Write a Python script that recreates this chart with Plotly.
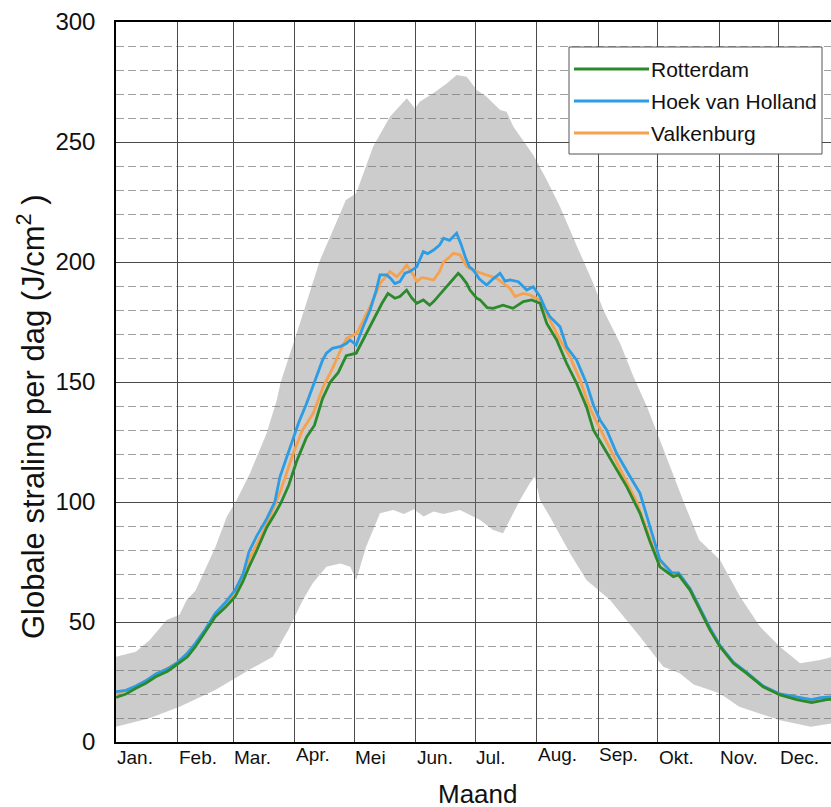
import plotly.graph_objects as go

# Month grid (day-of-year where each month starts) and axis labels
month_starts = [0, 31, 59, 90, 120, 151, 181, 212, 243, 273, 304, 334]
month_labels = ["Jan.", "Feb.", "Mar.", "Apr.", "Mei", "Jun.", "Jul.",
                "Aug.", "Sep.", "Okt.", "Nov.", "Dec."]

# Daily global radiation, J/cm2 (smoothed climatology per station)
rotterdam_days = [0, 5, 10, 15, 20, 26, 31, 36, 40, 45,
                  50, 55, 60, 64, 67, 71, 76, 80, 83, 87,
                  91, 96, 100, 104, 108, 112, 116, 121, 126, 130,
                  134, 137, 140.5, 143, 146.4, 149, 151.5, 154.8, 158, 160,
                  165, 168, 172.4, 174, 176.7, 178.3, 181.7, 183.4, 187, 190,
                  195, 200, 205.2, 209.4, 213.6, 217, 222, 227, 232, 237,
                  240.5, 245.5, 250.5, 257.3, 264, 269, 274, 280.8, 283.4, 289.2,
                  294.2, 299.2, 304.3, 311, 317.7, 326, 334.5, 342.9, 350.4, 358,
                  361]
rotterdam_vals = [18.6, 20, 22.4, 24.5, 27.2, 29.5, 32.5, 35.5, 39.7, 46,
                  52.2, 56, 60.5, 67, 73, 80, 89.5, 95, 99.5, 107,
                  117, 127, 132, 143, 150, 154, 161, 162, 170, 177,
                  182.8, 186.9, 184.9, 185.6, 188.3, 185, 182.8, 184.2, 182, 183.5,
                  188.3, 191, 195.3, 194, 191, 188.3, 184.9, 184.2, 181, 180.7,
                  182, 180.7, 183.5, 184.2, 182.8, 174.4, 167.5, 157.8, 149.5, 139.7,
                  130, 123, 116.1, 106.4, 95.3, 83.5, 73, 68.9, 69.6, 63.3,
                  55, 46.7, 39.7, 32.8, 28.6, 23, 19.6, 17.7, 16.4, 17.7,
                  17.8]

hoek_days = [0, 5, 10, 15, 20, 26, 31, 36, 40, 45,
             50, 55, 60, 64, 67, 71, 75.6, 80, 82.6, 87.7,
             92, 96, 101, 104, 106, 109, 112.8, 116, 117.9, 121,
             124, 128, 131, 133, 136.4, 138.5, 140.5, 143, 145.6, 148,
             151.5, 154.8, 157, 160, 163, 165, 168, 171.6, 174, 176,
             178, 180, 183, 186.7, 190, 193.5, 196, 198.5, 202.7, 206.9,
             210.2, 213.6, 216, 218.6, 223.7, 227, 232, 237, 240.5, 243.8,
             247.2, 252.2, 259, 264, 269, 274, 280, 283.4, 289.2, 294.2,
             299.2, 304.3, 311, 317.7, 326, 334.5, 342.9, 350.4, 355, 361]
hoek_vals = [21, 21.5, 23.3, 25.5, 28.3, 30.5, 33.2, 37, 41.1, 47,
             53.6, 58, 63.3, 70, 79.3, 86, 92.5, 100, 110.5, 123,
             133, 141, 152, 159, 162, 164, 164.7, 166, 167.5, 165.4,
             172, 180, 188, 194.6, 194.6, 193, 191, 191.8, 195.3, 196,
             198, 204.3, 203.5, 205, 207, 209.9, 209, 212, 207, 202,
             198, 196.7, 193, 190.4, 193, 195.3, 192, 192.5, 191.8, 188.3,
             189.7, 185.6, 181, 177.2, 173, 164.7, 159.2, 149.5, 140.4, 134.2,
             130, 120.3, 110.5, 103.6, 89.7, 76, 70.5, 70.5, 64, 56,
             47.5, 40.2, 33.3, 29, 23.3, 20, 18.8, 17.7, 18.5, 18.8]

valkenburg_days = [0, 10, 20, 31, 40, 50, 60, 67, 75.6, 82.6,
                   89.3, 94, 99.4, 104.4, 109.5, 113, 116.2, 121.3, 126.3, 130,
                   133, 138, 141.4, 144, 146.4, 149.8, 151.5, 154, 156.5, 160,
                   163, 165, 168, 170, 173.3, 176.7, 180, 183, 186.7, 191.8,
                   195, 198.5, 201, 205.2, 208.6, 213.6, 218.6, 223.7, 228.7, 233.8,
                   238.8, 243.8, 248.9, 255.6, 262.3, 267.3, 272.4, 280.8, 283.4, 289.2,
                   294.2, 299.2, 304.3, 311, 317.7, 326, 334.5, 342.9, 350.4, 358,
                   361]
valkenburg_vals = [20, 23, 28, 33, 40.5, 53, 62, 76, 90, 104,
                   120.3, 130, 137, 148, 156.4, 163, 168.2, 170.3, 178.6, 185,
                   191, 196, 193.9, 196, 198.75, 194.6, 191.8, 193.5, 193.2, 192.5,
                   196, 200, 202, 203.6, 203, 198, 196.5, 195.5, 194.6, 193.2,
                   191, 189, 185.6, 186.9, 186.25, 184.2, 175.8, 167.5, 160.5, 150.8,
                   139, 130.5, 122, 111, 100, 89, 77, 69.5, 70, 63.5,
                   55.5, 47, 40, 33, 28.8, 23.2, 19.8, 18, 16.8, 17.9,
                   18]

# Spread of daily values: upper and lower envelope
band_upper_days = [0, 10, 17, 25.5, 32, 35.6, 40, 45.7, 50, 55.8,
                   60.8, 67.5, 75.9, 81, 83, 92.7, 102.8, 112.8, 115.8, 121,
                   129.5, 138, 146.5, 150.6, 153, 159.8, 166.6, 171.6, 176.7, 181.7,
                   186.7, 193.5, 196.8, 200.2, 207, 210.2, 217, 223.7, 232, 240.5,
                   245.5, 254, 260.7, 267.5, 274, 286, 293.8, 304.3, 314.4, 324.5,
                   334.5, 344.6, 354.7, 361]
band_upper_vals = [35.5, 37.6, 42.5, 50.8, 53, 59.2, 63, 73, 81, 93.9,
                   100.8, 112, 128.6, 142.5, 150, 174.6, 200.8, 220, 225.8, 228.6,
                   248, 260.5, 268.2, 264, 266.8, 270.3, 274.4, 277.9, 277.2, 271.7,
                   268.9, 263.3, 262.6, 256.4, 248, 244.6, 234.2, 223, 207, 191,
                   180, 166, 152.2, 139.7, 125.8, 100, 84.2, 75.8, 60.5, 48,
                   39.7, 32.8, 34.2, 35.5]
band_lower_days = [0, 16.8, 32, 50, 67, 79, 87, 94, 99, 101,
                   106, 113, 118, 121, 126, 133, 139.7, 145, 150, 155,
                   160, 165, 173.3, 183.4, 190, 195, 203.5, 208.5, 211, 213.6,
                   218.6, 228.7, 237, 248.9, 264, 275.7, 284, 291, 304, 314,
                   334, 350, 361]
band_lower_vals = [6.4, 9.9, 14.7, 21.7, 30, 35.5, 47, 59, 66, 68,
                   73, 74.4, 73, 67.5, 81.4, 95.3, 96.7, 95, 97, 94,
                   96, 95, 96.7, 92.5, 88.3, 87, 100.8, 107.8, 110.5, 100.8,
                   93.9, 78.6, 67.5, 59.2, 43.9, 31.4, 28.6, 24, 20.3, 14.7,
                   9.2, 6.4, 7.8]

series = [
    ("Valkenburg", valkenburg_days, valkenburg_vals, "#f6a14e"),
    ("Hoek van Holland", hoek_days, hoek_vals, "#2c9ce4"),
    ("Rotterdam", rotterdam_days, rotterdam_vals, "#2b8a2b"),
]
legend_order = ["Rotterdam", "Hoek van Holland", "Valkenburg"]
colors = {name: col for name, _, _, col in series}

FONT = "Liberation Sans, Arial, Helvetica, sans-serif"
W, H = 831, 807
ML, MR, MT, MB = 116, 0, 22, 65
PW, PH = W - ML - MR, H - MT - MB
X_MAX = 360.2


def paper_x(px):
    return (px - ML) / PW


def paper_y(py):
    return (H - MB - py) / PH


fig = go.Figure()

# Shaded spread between the envelopes (translucent so the grid shows through)
fig.add_trace(go.Scatter(
    x=band_upper_days + band_lower_days[::-1],
    y=band_upper_vals + band_lower_vals[::-1],
    fill="toself", fillcolor="rgba(120,120,120,0.38)",
    mode="lines", line=dict(width=0),
    hoverinfo="skip", showlegend=False,
))

for name, days, vals, col in series:
    fig.add_trace(go.Scatter(
        x=days, y=vals, mode="lines", name=name,
        line=dict(color=col, width=2.8), showlegend=False,
    ))

annotations = []
raised = {"Apr.", "Aug.", "Sep."}
for start, lab in zip(month_starts, month_labels):
    annotations.append(dict(
        x=start, y=0, xref="x", yref="paper", text=lab, showarrow=False,
        xanchor="left", yanchor="middle", xshift=-1,
        yshift=-12 if lab in raised else -15,
        font=dict(family=FONT, size=19, color="#111"),
    ))

annotations.append(dict(
    x=paper_x(478), y=0, xref="paper", yref="paper", text="Maand",
    showarrow=False, xanchor="center", yanchor="middle", yshift=-52,
    font=dict(family=FONT, size=26, color="#111"),
))
annotations.append(dict(
    x=paper_x(31), y=paper_y(417), xref="paper", yref="paper",
    text="Globale straling per dag (J/cm<sup>2</sup> )", textangle=-90,
    showarrow=False, xanchor="center", yanchor="middle",
    font=dict(family=FONT, size=31, color="#111"),
))

# Legend box drawn by hand: long line samples touching the labels
shapes = [dict(
    type="rect", xref="paper", yref="paper",
    x0=paper_x(569), x1=paper_x(822), y0=paper_y(154), y1=paper_y(47),
    line=dict(color="#555", width=1), fillcolor="white", layer="above",
)]
for i, name in enumerate(legend_order):
    yy = 69 + i * 32
    shapes.append(dict(
        type="line", xref="paper", yref="paper",
        x0=paper_x(574), x1=paper_x(649), y0=paper_y(yy), y1=paper_y(yy),
        line=dict(color=colors[name], width=2.8), layer="above",
    ))
    annotations.append(dict(
        x=paper_x(649), y=paper_y(yy), xref="paper", yref="paper", text=name,
        showarrow=False, xanchor="left", yanchor="middle",
        font=dict(family=FONT, size=21, color="#111"),
    ))

fig.update_layout(
    width=W, height=H,
    margin=dict(l=ML, r=MR, t=MT, b=MB, pad=0),
    paper_bgcolor="white", plot_bgcolor="white",
    showlegend=False,
    xaxis=dict(
        range=[0, X_MAX], tickvals=month_starts, showticklabels=False,
        ticks="", showgrid=True, gridcolor="#4a4a4a", gridwidth=1,
        zeroline=False, showline=True, mirror=True,
        linecolor="black", linewidth=1.5,
    ),
    yaxis=dict(
        range=[0, 300], tickvals=list(range(0, 301, 50)), ticks="",
        showgrid=True, gridcolor="#4a4a4a", gridwidth=1,
        minor=dict(dtick=10, showgrid=True, gridcolor="#a0a0a0",
                   griddash="8px,4px", gridwidth=1),
        zeroline=False, showline=True, linecolor="black", linewidth=1.5,
        tickfont=dict(family=FONT, size=24, color="#111"),
        ticklabelstandoff=14,
    ),
    annotations=annotations,
    shapes=shapes,
)

fig.write_html("out.html")
